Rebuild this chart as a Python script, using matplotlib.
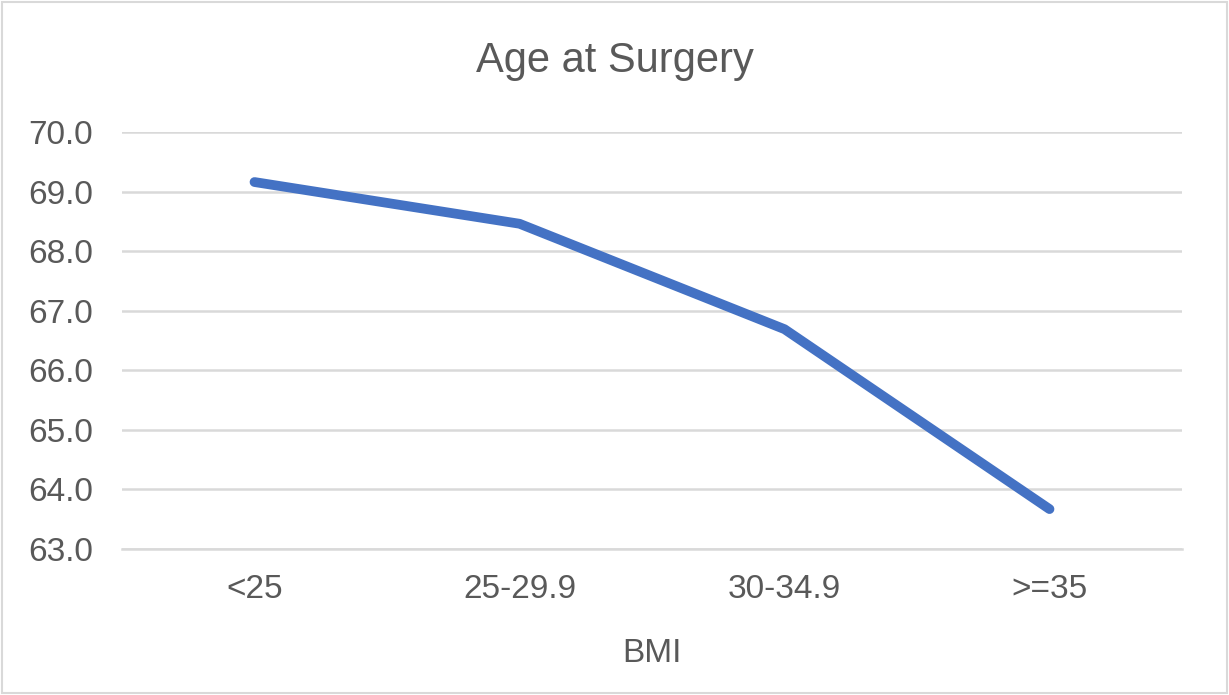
import matplotlib
matplotlib.use("Agg")
import matplotlib.pyplot as plt
from matplotlib.patches import Rectangle

# data
categories = ["<25", "25-29.9", "30-34.9", ">=35"]
age_at_surgery = [69.16, 68.46, 66.69, 63.67]
y_ticks = [63.0, 64.0, 65.0, 66.0, 67.0, 68.0, 69.0, 70.0]

TEXT = "#595959"
GRID = "#D9D9D9"
LINE = "#4472C4"

plt.rcParams["font.family"] = ["Liberation Sans", "DejaVu Sans"]

W, H = 1229, 695
fig = plt.figure(figsize=(W / 100, H / 100), dpi=100)
ax = fig.add_axes([122 / W, 1 - 549 / H, (1182 - 122) / W, (549 - 132) / H])

x = list(range(len(categories)))
ax.plot(x, age_at_surgery, color=LINE, linewidth=7, solid_capstyle="round",
        solid_joinstyle="round", zorder=3)

ax.set_xlim(-0.5, len(categories) - 0.5)
ax.set_ylim(y_ticks[0], y_ticks[-1])
ax.set_yticks(y_ticks)
ax.set_yticklabels([f"{v:.1f}" for v in y_ticks])
ax.set_xticks(x)
ax.set_xticklabels(categories)

ax.grid(axis="y", color=GRID, linewidth=1.8)
ax.set_axisbelow(True)
for side in ["top", "right", "left"]:
    ax.spines[side].set_visible(False)
ax.spines["bottom"].set_color(GRID)
ax.spines["bottom"].set_linewidth(1.8)
ax.tick_params(axis="both", length=0, labelsize=24, labelcolor=TEXT)
ax.tick_params(axis="y", pad=21)
ax.tick_params(axis="x", pad=18)

ax.set_xlabel("BMI", fontsize=24, color=TEXT, labelpad=24)
fig.text(0.5, 1 - 72 / H, "Age at Surgery", ha="center", va="baseline",
         fontsize=30, color=TEXT)

# light chart-area border
fig.patches.append(Rectangle((2 / W, 2 / H), 1 - 4 / W, 1 - 4 / H,
                             transform=fig.transFigure, fill=False,
                             edgecolor=GRID, linewidth=1.5))

fig.savefig("out.png", dpi=100)
